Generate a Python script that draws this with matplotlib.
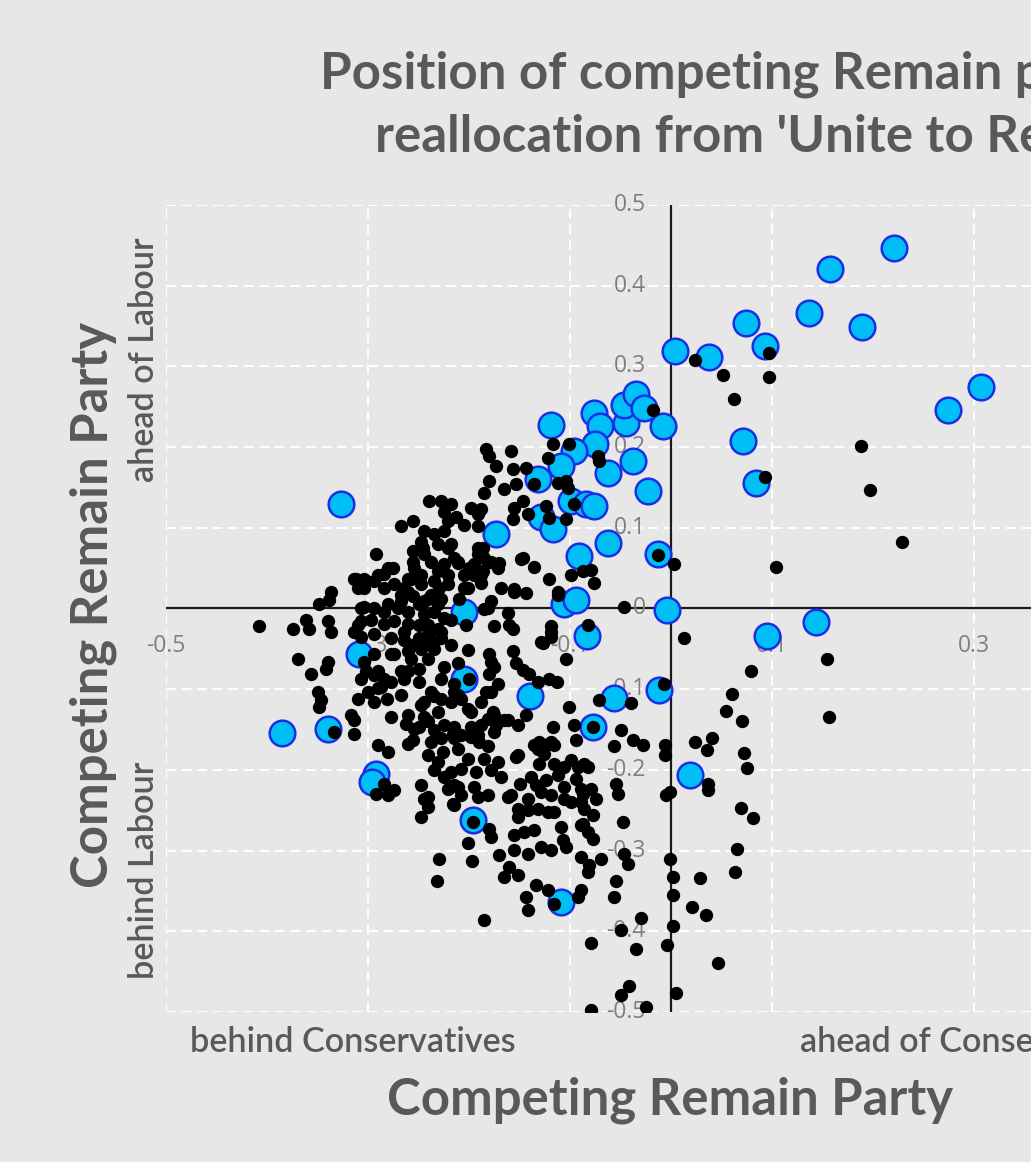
import numpy as np
import matplotlib
matplotlib.use("Agg")
import matplotlib.pyplot as plt

# ---------------- data ----------------
blue_points = [
    (0.221, 0.447), (0.157, 0.421), (0.137, 0.366), (0.189, 0.349), (0.074, 0.354),
    (0.093, 0.325), (0.004, 0.319), (0.038, 0.312), (0.307, 0.275), (0.274, 0.246),
    (0.071, 0.207), (0.084, 0.155), (0.144, -0.017), (0.095, -0.034), (0.019, -0.206),
    (-0.008, 0.226), (-0.013, 0.067), (-0.004, -0.002), (-0.012, -0.101), (-0.119, 0.227),
    (-0.076, 0.242), (-0.070, 0.226), (-0.045, 0.230), (-0.047, 0.252), (-0.035, 0.266),
    (-0.027, 0.248), (-0.075, 0.204), (-0.096, 0.195), (-0.109, 0.176), (-0.132, 0.161),
    (-0.062, 0.168), (-0.038, 0.183), (-0.023, 0.145), (-0.099, 0.133), (-0.084, 0.130),
    (-0.076, 0.127), (-0.129, 0.114), (-0.117, 0.098), (-0.173, 0.092), (-0.062, 0.081),
    (-0.091, 0.065), (-0.106, 0.006), (-0.094, 0.011), (-0.205, -0.004), (-0.327, 0.129),
    (-0.309, -0.057), (-0.205, -0.087), (-0.140, -0.108), (-0.056, -0.111), (-0.077, -0.147),
    (-0.083, -0.034), (-0.385, -0.154), (-0.340, -0.149), (-0.292, -0.205), (-0.296, -0.215),
    (-0.196, -0.262), (-0.109, -0.364),
]

black_right = [
    (0.024, 0.308), (0.051, 0.289), (0.062, 0.260), (0.097, 0.317), (0.097, 0.287),
    (0.188, 0.201), (0.197, 0.147), (0.093, 0.163), (0.229, 0.082), (0.003, 0.055),
    (0.104, 0.051), (-0.018, 0.246),
    (0.013, -0.036), (0.079, -0.077), (0.060, -0.106), (0.054, -0.127), (0.070, -0.140),
    (0.154, -0.062), (0.156, -0.135), (0.024, -0.166), (0.041, -0.160), (0.036, -0.175),
    (-0.006, -0.169), (-0.006, -0.181), (0.072, -0.179), (0.075, -0.198), (0.037, -0.217),
    (0.037, -0.225), (-0.001, -0.227), (-0.005, -0.231), (0.069, -0.247), (0.081, -0.260),
    (0.065, -0.298), (0.063, -0.327), (-0.001, -0.311), (0.002, -0.333), (0.029, -0.334),
    (0.002, -0.355), (0.021, -0.370), (0.035, -0.380), (0.002, -0.393), (-0.004, -0.417),
    (0.047, -0.439), (0.005, -0.477), (-0.007, -0.094), (-0.047, 0.002),
]

black_bottom = [
    (-0.248, -0.258), (-0.241, -0.246), (-0.215, -0.243), (-0.196, -0.265), (-0.180, -0.273),
    (-0.178, -0.283), (-0.201, -0.291), (-0.197, -0.313), (-0.230, -0.311), (-0.232, -0.338),
    (-0.170, -0.306), (-0.185, -0.386), (-0.151, -0.258), (-0.142, -0.250), (-0.132, -0.248),
    (-0.116, -0.252), (-0.155, -0.281), (-0.146, -0.277), (-0.136, -0.275), (-0.109, -0.271),
    (-0.107, -0.287), (-0.104, -0.296), (-0.155, -0.299), (-0.142, -0.304), (-0.129, -0.296),
    (-0.119, -0.299), (-0.089, -0.240), (-0.077, -0.256), (-0.087, -0.267), (-0.082, -0.277),
    (-0.077, -0.286), (-0.048, -0.265), (-0.160, -0.320), (-0.165, -0.333), (-0.151, -0.330),
    (-0.089, -0.308), (-0.081, -0.318), (-0.082, -0.327), (-0.069, -0.311), (-0.047, -0.304),
    (-0.043, -0.317), (-0.054, -0.338), (-0.056, -0.357), (-0.134, -0.343), (-0.122, -0.349),
    (-0.144, -0.358), (-0.142, -0.374), (-0.116, -0.366), (-0.089, -0.349), (-0.092, -0.358),
    (-0.030, -0.384), (-0.050, -0.398), (-0.079, -0.415), (-0.035, -0.422), (-0.042, -0.468),
    (-0.050, -0.479), (-0.079, -0.497), (-0.025, -0.494),
]

black_lower_mid = [
    (-0.175, -0.022), (-0.160, -0.020), (-0.156, -0.025), (-0.127, -0.043), (-0.119, -0.035),
    (-0.119, -0.022), (-0.104, -0.062), (-0.082, -0.020), (-0.203, -0.020), (-0.200, -0.087),
    (-0.180, -0.056), (-0.178, -0.066), (-0.156, -0.053), (-0.153, -0.068), (-0.147, -0.076),
    (-0.141, -0.081), (-0.180, -0.081), (-0.171, -0.093), (-0.183, -0.103), (-0.113, -0.091),
    (-0.211, -0.107), (-0.198, -0.128), (-0.176, -0.128), (-0.165, -0.138), (-0.151, -0.144),
    (-0.198, -0.147), (-0.208, -0.157), (-0.191, -0.157), (-0.175, -0.153), (-0.101, -0.122),
    (-0.117, -0.147), (-0.071, -0.113), (-0.040, -0.117), (-0.077, -0.147), (-0.050, -0.150),
    (-0.094, -0.163), (-0.056, -0.171), (-0.038, -0.163), (-0.028, -0.169), (-0.131, -0.165),
    (-0.119, -0.165), (-0.132, -0.174), (-0.126, -0.180), (-0.153, -0.184), (-0.131, -0.193),
    (-0.116, -0.193), (-0.099, -0.188), (-0.092, -0.196), (-0.086, -0.193), (-0.211, -0.174),
    (-0.201, -0.186), (-0.185, -0.186), (-0.171, -0.190), (-0.208, -0.199), (-0.193, -0.202),
    (-0.168, -0.209), (-0.150, -0.217), (-0.139, -0.209), (-0.134, -0.219), (-0.124, -0.212),
    (-0.112, -0.206), (-0.106, -0.221), (-0.094, -0.211), (-0.074, -0.236), (-0.052, -0.230),
    (-0.054, -0.217), (-0.211, -0.221), (-0.195, -0.221), (-0.181, -0.231), (-0.158, -0.231),
    (-0.142, -0.236), (-0.119, -0.231), (-0.106, -0.236), (-0.087, -0.230),
    (-0.277, -0.134), (-0.262, -0.143), (-0.254, -0.149), (-0.260, -0.168), (-0.280, -0.178),
    (-0.241, -0.140), (-0.235, -0.150), (-0.225, -0.144), (-0.216, -0.155), (-0.188, -0.144),
    (-0.181, -0.137), (-0.173, -0.144), (-0.161, -0.138), (-0.238, -0.165), (-0.241, -0.181),
    (-0.231, -0.190), (-0.226, -0.178), (-0.198, -0.159), (-0.190, -0.165), (-0.181, -0.171),
    (-0.178, -0.200), (-0.235, -0.200), (-0.225, -0.209), (-0.221, -0.224), (-0.208, -0.231),
    (-0.191, -0.234), (-0.216, -0.242), (-0.245, -0.236), (-0.151, -0.181), (-0.136, -0.169),
    (-0.122, -0.168), (-0.106, -0.196), (-0.082, -0.196), (-0.129, -0.227), (-0.089, -0.224),
    (-0.079, -0.224), (-0.161, -0.234), (-0.151, -0.248), (-0.122, -0.252), (-0.099, -0.240),
    (-0.086, -0.248), (-0.089, -0.268), (-0.096, -0.144), (-0.116, -0.169),
]

black_left = [
    (-0.408, -0.022), (-0.374, -0.025), (-0.361, -0.014), (-0.358, -0.026), (-0.340, -0.016),
    (-0.337, -0.029), (-0.369, -0.062), (-0.340, -0.066), (-0.342, -0.075), (-0.356, -0.081),
    (-0.350, -0.103), (-0.347, -0.113), (-0.349, -0.122), (-0.314, -0.138), (-0.314, -0.155),
    (-0.334, -0.153), (-0.310, -0.020), (-0.307, -0.035), (-0.304, -0.066), (-0.302, -0.078),
    (-0.290, -0.078), (-0.284, -0.087), (-0.287, -0.097), (-0.300, -0.103), (-0.310, -0.112),
    (-0.294, -0.116), (-0.290, -0.169), (-0.284, -0.217), (-0.292, -0.230), (-0.280, -0.231),
    (-0.274, -0.225), (-0.241, -0.234), (-0.264, -0.029), (-0.257, -0.045), (-0.274, -0.057),
    (-0.260, -0.078), (-0.250, -0.091), (-0.246, -0.045), (-0.235, -0.041), (-0.228, -0.029),
    (-0.218, -0.014), (-0.245, -0.116), (-0.235, -0.109), (-0.215, -0.103), (-0.250, -0.147),
    (-0.215, -0.147), (-0.255, -0.163), (-0.228, -0.161), (-0.215, -0.161), (-0.218, -0.202),
    (-0.248, -0.219), (-0.215, -0.219),
]

black_core = [
    (-0.292, 0.067), (-0.312, 0.037), (-0.304, 0.025), (-0.294, 0.034), (-0.284, 0.043),
    (-0.275, 0.050), (-0.284, 0.025), (-0.274, 0.030), (-0.264, 0.025), (-0.257, 0.036),
    (-0.267, 0.017), (-0.255, 0.015), (-0.248, 0.030), (-0.248, 0.042), (-0.255, 0.058),
    (-0.255, 0.071), (-0.246, 0.075), (-0.238, 0.058), (-0.231, 0.046), (-0.225, 0.055),
    (-0.221, 0.030), (-0.230, 0.025), (-0.238, 0.017), (-0.245, 0.009), (-0.231, 0.006),
    (-0.221, 0.075), (-0.211, 0.058), (-0.201, 0.025), (-0.191, 0.075), (-0.195, 0.055),
    (-0.181, 0.058), (-0.188, 0.042), (-0.171, 0.050), (-0.168, 0.025), (-0.155, 0.024),
    (-0.144, 0.019), (-0.147, 0.062), (-0.136, 0.052), (-0.121, 0.036), (-0.112, 0.017),
    (-0.181, 0.000), (-0.161, -0.006), (-0.307, 0.000), (-0.294, 0.000), (-0.284, -0.004),
    (-0.270, 0.000), (-0.260, -0.004), (-0.250, 0.005), (-0.245, -0.007), (-0.235, -0.004),
    (-0.225, -0.012), (-0.307, -0.016), (-0.297, -0.014), (-0.284, -0.019), (-0.274, -0.016),
    (-0.260, -0.019), (-0.250, -0.020), (-0.241, -0.020), (-0.231, -0.026), (-0.314, -0.029),
    (-0.294, -0.032), (-0.277, -0.037), (-0.264, -0.039), (-0.250, -0.037), (-0.241, -0.032),
    (-0.228, -0.037), (-0.218, -0.045), (-0.201, -0.051), (-0.294, -0.057), (-0.277, -0.057),
    (-0.260, -0.053), (-0.248, -0.050), (-0.235, -0.050), (-0.241, -0.062), (-0.257, -0.062),
    (-0.294, -0.082), (-0.267, -0.078), (-0.250, -0.075), (-0.225, -0.072), (-0.211, -0.068),
    (-0.228, -0.087), (-0.215, -0.094), (-0.307, -0.087), (-0.290, -0.099), (-0.277, -0.091),
    (-0.264, -0.087), (-0.281, -0.112), (-0.267, -0.107), (-0.238, -0.103), (-0.248, -0.119),
    (-0.228, -0.112), (-0.231, -0.128), (-0.218, -0.116), (-0.208, -0.112), (-0.201, -0.124),
    (-0.188, -0.116), (-0.178, -0.103), (-0.175, -0.072), (-0.132, -0.091), (-0.129, -0.041),
    (-0.119, -0.029), (-0.121, -0.087), (-0.260, -0.132), (-0.317, -0.132), (-0.245, -0.134),
    (-0.175, -0.132), (-0.144, -0.132),
]

black_upper = [
    (-0.240, 0.133), (-0.228, 0.133), (-0.218, 0.129), (-0.225, 0.120), (-0.221, 0.108),
    (-0.267, 0.102), (-0.255, 0.108), (-0.245, 0.096), (-0.235, 0.092), (-0.225, 0.096),
    (-0.248, 0.083), (-0.245, 0.067), (-0.231, 0.080), (-0.215, 0.062), (-0.280, 0.050),
    (-0.290, 0.042), (-0.304, 0.036), (-0.314, 0.037), (-0.310, 0.025), (-0.260, 0.037),
    (-0.254, 0.050), (-0.260, 0.021), (-0.235, 0.034), (-0.221, 0.042), (-0.241, 0.012),
    (-0.228, 0.012), (-0.267, 0.009), (-0.280, 0.005), (-0.304, 0.002), (-0.337, 0.021),
    (-0.339, 0.011), (-0.349, 0.005),
    (-0.183, 0.198), (-0.180, 0.189), (-0.158, 0.195), (-0.173, 0.176), (-0.156, 0.173),
    (-0.144, 0.174), (-0.122, 0.186), (-0.117, 0.204), (-0.101, 0.204), (-0.072, 0.189),
    (-0.071, 0.183), (-0.180, 0.158), (-0.165, 0.148), (-0.153, 0.154), (-0.136, 0.154),
    (-0.112, 0.155), (-0.104, 0.158), (-0.102, 0.149), (-0.185, 0.143), (-0.198, 0.124),
    (-0.188, 0.123), (-0.191, 0.117), (-0.155, 0.124), (-0.147, 0.133), (-0.142, 0.117),
    (-0.156, 0.111), (-0.213, 0.114), (-0.205, 0.104), (-0.191, 0.102), (-0.121, 0.112),
    (-0.104, 0.111), (-0.096, 0.129), (-0.124, 0.127), (-0.186, 0.075), (-0.191, 0.067),
    (-0.185, 0.062), (-0.178, 0.058), (-0.170, 0.056), (-0.218, 0.080), (-0.211, 0.056),
    (-0.200, 0.050), (-0.186, 0.046), (-0.195, 0.042), (-0.205, 0.042), (-0.188, 0.031),
    (-0.149, 0.061), (-0.155, 0.021), (-0.112, 0.021), (-0.099, 0.042), (-0.087, 0.046),
    (-0.079, 0.048), (-0.076, 0.031), (-0.205, 0.025), (-0.210, 0.012), (-0.178, 0.009),
    (-0.185, -0.001), (-0.013, 0.066),
]

x_tick_values = [-0.5, -0.3, -0.1, 0.1, 0.3]
x_tick_labels = ["-0.5", "-0.3", "-0.1", "0.1", "0.3"]
y_tick_values = [0.5, 0.4, 0.3, 0.2, 0.1, 0.0, -0.1, -0.2, -0.3, -0.4, -0.5]
y_tick_labels = ["0.5", "0.4", "0.3", "0.2", "0.1", "0", "-0.1", "-0.2", "-0.3", "-0.4", "-0.5"]

title_line1 = "Position of competing Remain party after"
title_line2 = "reallocation from 'Unite to Remain'"
axis_title = "Competing Remain Party"

# ---------------- figure ----------------
W, H = 1031, 1162
BG = "#e7e7e7"
TXT = "#595959"
TICK = "#7f7f7f"

fig = plt.figure(figsize=(W / 100, H / 100), dpi=100, facecolor=BG)
ax = fig.add_axes([166 / W, 1 - 1012 / H, 1010 / W, 807 / H])
ax.set_facecolor(BG)
ax.set_xlim(-0.5, 0.5)
ax.set_ylim(-0.5, 0.5)
ax.set_xticks([-0.5, -0.3, -0.1, 0.1, 0.3, 0.5])
ax.set_yticks(np.round(np.arange(-0.5, 0.51, 0.1), 1))
ax.tick_params(length=0, labelbottom=False, labelleft=False)
for s in ax.spines.values():
    s.set_visible(False)
ax.set_axisbelow(True)
ax.grid(True, color="white", linestyle=(0, (5, 3)), linewidth=1.4, zorder=0)
ax.axhline(0, color="#1a1a1a", lw=1.6, zorder=1)
ax.axvline(0, color="#1a1a1a", lw=1.6, zorder=1)

for v, lab in zip(x_tick_values, x_tick_labels):
    ax.text(v, -0.047, lab, ha="center", va="center", fontsize=16.5,
            family="Open Sans", color=TICK, zorder=1.5)
for v, lab in zip(y_tick_values, y_tick_labels):
    ax.text(-0.025, v, lab, ha="right", va="center", fontsize=16.5,
            family="Open Sans", color=TICK, zorder=1.5)

bx = [p[0] for p in blue_points]
by = [p[1] for p in blue_points]
ax.scatter(bx, by, s=340, facecolor="#00bff7", edgecolor="#1a2ee6",
           linewidths=1.8, zorder=3)

black_all = black_right + black_bottom + black_lower_mid + black_left + black_core + black_upper
kx = [p[0] for p in black_all]
ky = [p[1] for p in black_all]
ax.scatter(kx, ky, s=92, color="black", linewidths=0, zorder=4)

renderer = fig.canvas.get_renderer()


def fx(px):
    return px / W


def fy(py):
    return 1 - py / H


def fit_size(txt, target, weight, vertical=False, start=20):
    t = fig.text(0, 0, txt, fontsize=start, family="Lato", weight=weight,
                 rotation=90 if vertical else 0)
    size = start
    for _ in range(3):
        bb = t.get_window_extent(renderer)
        cur = bb.height if vertical else bb.width
        size = size * target / cur
        t.set_fontsize(size)
    t.remove()
    return size


ts = fit_size("Position of competing Remain", 683, "bold")
fig.text(fx(320), fy(89), title_line1, fontsize=ts, family="Lato", weight="bold",
         color=TXT, ha="left", va="baseline")
fig.text(fx(375), fy(152), title_line2, fontsize=ts, family="Lato", weight="bold",
         color=TXT, ha="left", va="baseline")

axs = fit_size(axis_title, 566, "bold")
fig.text(fx(670), fy(1115), axis_title, fontsize=axs, family="Lato", weight="bold",
         color=TXT, ha="center", va="baseline")
fig.text(fx(108), fy(605), axis_title, fontsize=axs, family="Lato", weight="bold",
         color=TXT, ha="center", va="baseline", rotation=90, rotation_mode="anchor")

ss = fit_size("behind Conservatives", 325, "semibold")
fig.text(fx(190), fy(1052), "behind Conservatives", fontsize=ss, family="Lato",
         weight="semibold", color=TXT, ha="left", va="baseline")
fig.text(fx(800), fy(1052), "ahead of Conservatives", fontsize=ss, family="Lato",
         weight="semibold", color=TXT, ha="left", va="baseline")
fig.text(fx(154), fy(360), "ahead of Labour", fontsize=ss, family="Lato",
         weight="semibold", color=TXT, ha="center", va="baseline", rotation=90,
         rotation_mode="anchor")
fig.text(fx(154), fy(870), "behind Labour", fontsize=ss, family="Lato",
         weight="semibold", color=TXT, ha="center", va="baseline", rotation=90,
         rotation_mode="anchor")

fig.savefig("out.png", dpi=100, facecolor=BG)
